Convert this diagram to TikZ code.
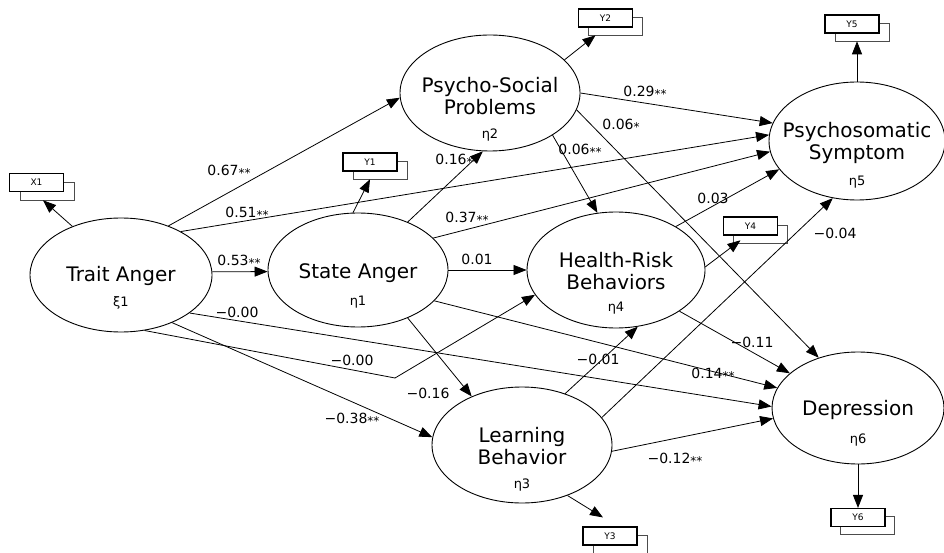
\documentclass[tikz,border=0pt]{standalone}
\usepackage{fontspec}
\setmainfont{DejaVu Sans}
\usetikzlibrary{arrows.meta,shapes.geometric}
\newcommand\twostar{\raisebox{-2pt}{\fontsize{12}{12}\selectfont **}}
\newcommand\onestar{\raisebox{-2pt}{\fontsize{12}{12}\selectfont *}}
\begin{document}
\begin{tikzpicture}[x=1pt,y=-1pt,
  lat/.style={draw, ellipse, line width=0.9pt, inner sep=0pt},
  lattxt/.style={font=\fontsize{20}{22}\selectfont, align=center, inner sep=0pt},
  symtxt/.style={font=\fontsize{13}{13}\selectfont, inner sep=0pt},
  eff/.style={draw, line width=0.8pt, -{Triangle[length=13pt,width=10pt]}},
  coef/.style={font=\fontsize{14}{14}\selectfont, inner sep=0pt},
  obsb/.style={draw=black!70, line width=0.6pt, fill=white, minimum width=54pt, minimum height=18pt, inner sep=0pt},
  obsf/.style={draw, line width=1.1pt, fill=white, minimum width=54pt, minimum height=18pt, inner sep=0pt, font=\fontsize{9}{9}\selectfont},
]
\useasboundingbox[fill=white] (0,0) rectangle (944,553);

% latent variables
\node[lat, minimum width=182, minimum height=114] (ta) at (121,275) {};
\node[lat, minimum width=180, minimum height=114] (sa) at (358,270) {};
\node[lat, minimum width=180, minimum height=116] (ps) at (490,93) {};
\node[lat, minimum width=176, minimum height=118] (psy) at (857,141) {};
\node[lat, minimum width=178, minimum height=116] (hr) at (616,270) {};
\node[lat, minimum width=180, minimum height=116] (lb) at (522,445) {};
\node[lat, minimum width=172, minimum height=112] (dep) at (858,408) {};

\node[lattxt] (tat) at ([yshift=-1]ta.center) {Trait Anger};
\node[symtxt] (tas) at ([yshift=-28]ta.center) {ξ1};
\node[lattxt] (sat) at ([yshift=-3]sa.center) {State Anger};
\node[symtxt] (sas) at ([yshift=-32]sa.center) {η1};
\node[lattxt] (pst) at ([yshift=-3]ps.center) {Psycho-Social\\Problems};
\node[symtxt] (pss) at ([yshift=-42]ps.center) {η2};
\node[lattxt] (psyt) at ([yshift=-2]psy.center) {Psychosomatic\\Symptom};
\node[symtxt] (psys) at ([yshift=-41]psy.center) {η5};
\node[lattxt] (hrt) at ([yshift=-1]hr.center) {Health-Risk\\Behaviors};
\node[symtxt] (hrs) at ([yshift=-38]hr.center) {η4};
\node[lattxt] (lbt) at ([yshift=-1]lb.center) {Learning\\Behavior};
\node[symtxt] (lbs) at ([yshift=-40]lb.center) {η3};
\node[lattxt] (dept) at ([yshift=-2]dep.center) {Depression};
\node[symtxt] (deps) at ([yshift=-32]dep.center) {η6};

% observed indicators (back and front boxes)
\node[obsb] (x1b) at (47,191) {};
\node[obsf] (x1f) at (36.5,182.5) {X1};
\node[obsb] (y1b) at (380,170) {};
\node[obsf] (y1f) at (370,162) {Y1};
\node[obsb] (y2b) at (615.5,26) {};
\node[obsf] (y2f) at (605.5,18) {Y2};
\node[obsb] (y5b) at (862,32) {};
\node[obsf] (y5f) at (852,24) {Y5};
\node[obsb] (y4b) at (760.5,234) {};
\node[obsf] (y4f) at (750.5,226) {Y4};
\node[obsb] (y3b) at (620,544) {};
\node[obsf] (y3f) at (610,536) {Y3};
\node[obsb] (y6b) at (867,525.5) {};
\node[obsf] (y6f) at (858,517.5) {Y6};

% measurement arrows
\draw[eff] (ta.135) -- ([xshift=-4]x1b.south);
\draw[eff] (sa.95) -- ([xshift=-10]y1b.south);
\draw[eff] (ps.24) -- ([xshift=-20]y2b.south);
\draw[eff] (psy.north) -- (psy.north |- y5b.south);
\draw[eff] (hr.2) -- ([xshift=-20,yshift=3]y4b.south);
\draw[eff] (lb.312) -- ([xshift=-7,yshift=9]y3f.north);
\draw[eff] (dep.south) -- (dep.south |- y6f.north);

% structural paths
\coordinate (kink) at (395,378);
\draw[eff] (ta.46) -- (ps.183);
\draw[eff] (ta.36) -- (psy.176);
\draw[eff] (ta.2) -- (sa.181);
\draw[eff] (ta.331) -- (dep.179);
\draw[eff] (ta.317) -- (lb.175);
\draw[eff] (ta.293) -- (kink) -- (hr.197);
\draw[eff] (sa.44) -- (ps.263);
\draw[eff] (sa.23) -- (psy.187);
\draw[eff] (sa.0) -- (hr.180);
\draw[eff] (sa.338) -- (dep.166);
\draw[eff] (sa.316) -- (lb.136);
\draw[eff] (ps.0) -- (psy.168);
\draw[eff] (ps.326) -- (hr.108);
\draw[eff] (ps.349) -- (dep.128);
\draw[eff] (hr.36) -- (psy.200);
\draw[eff] (hr.327) -- (dep.153);
\draw[eff] (lb.50) -- (hr.291);
\draw[eff] (lb.19) -- (psy.247);
\draw[eff] (lb.356) -- (dep.187);

% coefficients
\node[coef] (c1) at (229,171) {0.67\twostar};
\node[coef] (c2) at (247,213) {0.51\twostar};
\node[coef] (c3) at (239,261) {0.53\twostar};
\node[coef] (c4) at (237,312) {−0.00};
\node[coef] (c5) at (352,360) {−0.00};
\node[coef] (c6) at (352,419) {−0.38\twostar};
\node[coef] (c7) at (428,393) {−0.16};
\node[coef] (c8) at (457,160) {0.16\twostar};
\node[coef] (c9) at (467,218) {0.37\twostar};
\node[coef] (c10) at (477,259) {0.01};
\node[coef] (c11) at (645,92) {0.29\twostar};
\node[coef] (c12) at (621,125) {0.06\onestar};
\node[coef] (c13) at (580,150) {0.06\twostar};
\node[coef] (c14) at (713,198) {0.03};
\node[coef] (c15) at (835,233) {−0.04};
\node[coef] (c16) at (752,342) {−0.11};
\node[coef] (c17) at (713,374) {0.14\twostar};
\node[coef] (c18) at (598,359) {−0.01};
\node[coef] (c19) at (675,459) {−0.12\twostar};
\end{tikzpicture}
\end{document}
